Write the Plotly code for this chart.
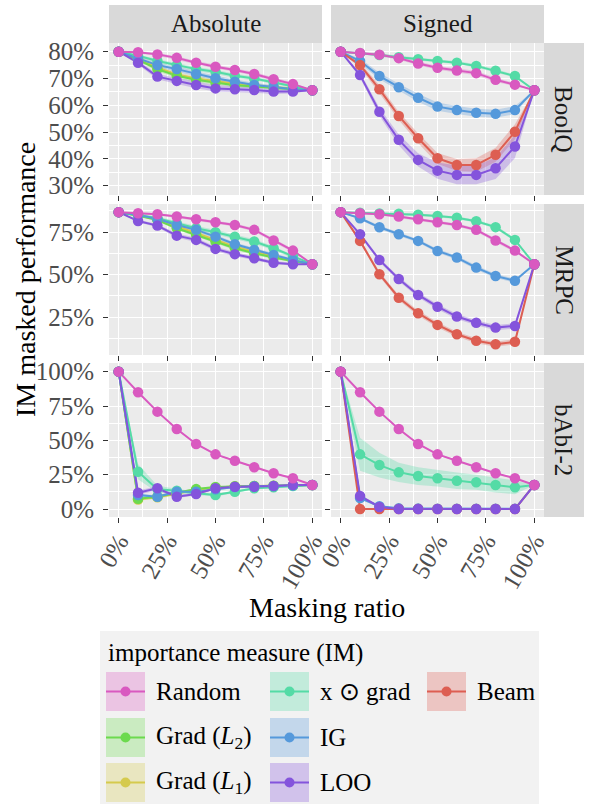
import plotly.graph_objects as go

W, H = 591, 806

MASK_RATIO = [0.0, 0.1, 0.2, 0.3, 0.4, 0.5, 0.6, 0.7, 0.8, 0.9, 1.0]
DATASETS = ['BoolQ', 'MRPC', 'bAbI-2']
FACETS = ['Absolute', 'Signed']

# mean masked performance (%) per panel
BOOLQ_ABS = {
    'Random':  [80.0, 79.8, 79.0, 77.7, 75.9, 74.4, 73.2, 71.7, 69.7, 67.9, 65.6],
    'Grad L1': [80.0, 77.5, 74.0, 71.5, 70.0, 69.0, 68.0, 67.3, 66.7, 66.2, 65.6],
    'Grad L2': [80.0, 77.0, 73.5, 71.0, 69.5, 68.5, 67.5, 67.0, 66.5, 66.0, 65.6],
    'x grad':  [80.0, 78.5, 76.5, 75.0, 73.5, 72.5, 71.0, 70.0, 68.5, 67.0, 65.6],
    'IG':      [80.0, 77.5, 75.0, 73.5, 71.7, 70.1, 68.8, 67.6, 66.8, 66.0, 65.6],
    'LOO':     [80.0, 75.9, 70.7, 69.1, 67.6, 66.3, 66.0, 65.7, 65.1, 65.1, 65.6],
}
BOOLQ_SGN = {
    'Random':  [80.0, 79.5, 78.9, 77.6, 75.6, 74.0, 73.0, 72.0, 69.5, 67.7, 65.6],
    'x grad':  [80.0, 79.4, 78.8, 77.9, 77.2, 76.5, 75.9, 74.7, 72.9, 70.9, 65.6],
    'IG':      [80.0, 76.5, 70.9, 66.7, 62.8, 59.5, 58.2, 57.2, 56.8, 58.2, 65.6],
    'Beam':    [80.0, 75.0, 66.0, 56.0, 47.7, 40.2, 37.7, 37.7, 41.5, 50.1, 65.6],
    'LOO':     [80.0, 71.3, 57.6, 47.1, 39.6, 35.6, 34.0, 34.0, 36.5, 44.6, 65.6],
}
MRPC_ABS = {
    'Random':  [86.8, 86.2, 85.6, 84.2, 82.6, 80.9, 79.3, 76.4, 70.1, 64.2, 56.2],
    'Grad L1': [86.8, 85.0, 82.8, 78.5, 74.5, 70.5, 66.5, 63.5, 60.8, 58.5, 56.2],
    'Grad L2': [86.8, 84.8, 82.2, 77.3, 73.4, 69.5, 65.6, 62.6, 60.1, 58.1, 56.2],
    'x grad':  [86.8, 85.2, 83.2, 80.3, 77.3, 75.0, 72.4, 69.5, 65.6, 60.7, 56.2],
    'IG':      [86.8, 85.2, 82.8, 79.3, 76.4, 72.4, 67.9, 64.6, 61.6, 58.7, 56.2],
    'LOO':     [86.8, 81.6, 78.9, 73.0, 70.5, 65.2, 62.1, 59.7, 57.1, 56.2, 56.2],
}
MRPC_SGN = {
    'Random':  [86.8, 86.2, 85.6, 84.2, 82.6, 80.9, 79.3, 76.4, 70.1, 64.2, 56.2],
    'x grad':  [86.8, 86.5, 86.0, 85.8, 85.3, 84.5, 83.5, 81.5, 78.0, 70.5, 56.2],
    'IG':      [86.8, 83.2, 77.9, 73.8, 69.9, 64.0, 60.1, 54.2, 49.3, 46.5, 56.2],
    'Beam':    [86.8, 69.9, 50.3, 36.5, 27.4, 20.5, 15.0, 11.2, 9.1, 10.6, 56.2],
    'LOO':     [86.8, 73.8, 58.7, 47.5, 38.1, 31.2, 25.4, 21.8, 18.9, 19.9, 56.2],
}
BABI_ABS = {
    'Random':  [100.0, 85.0, 70.9, 58.3, 47.4, 39.8, 35.2, 30.4, 26.0, 22.4, 17.5],
    'Grad L1': [100.0, 7.0, 8.5, 11.0, 14.0, 15.5, 16.5, 16.8, 17.0, 17.2, 17.5],
    'Grad L2': [100.0, 7.5, 9.0, 11.5, 14.5, 16.0, 16.5, 16.8, 17.0, 17.2, 17.5],
    'x grad':  [100.0, 27.2, 14.4, 13.3, 11.4, 10.2, 12.6, 15.1, 15.8, 16.8, 17.5],
    'IG':      [100.0, 10.2, 9.0, 12.6, 12.6, 14.4, 16.0, 16.5, 16.8, 17.2, 17.5],
    'LOO':     [100.0, 11.9, 15.1, 9.0, 11.0, 15.1, 16.2, 16.2, 16.7, 17.5, 17.5],
}
BABI_SGN = {
    'Random':  [100.0, 85.0, 70.9, 58.3, 47.4, 39.8, 35.2, 30.4, 26.0, 22.4, 17.5],
    'x grad':  [100.0, 39.8, 32.0, 26.7, 24.0, 22.4, 20.6, 19.5, 17.5, 15.8, 17.5],
    'IG':      [100.0, 8.0, 2.0, 0.5, 0.3, 0.2, 0.2, 0.2, 0.2, 0.2, 17.5],
    'Beam':    [100.0, 0.0, 0.0, 0.0, 0.0, 0.0, 0.0, 0.0, 0.0, 0.0, 17.5],
    'LOO':     [100.0, 9.5, 1.5, 0.0, 0.0, 0.0, 0.0, 0.0, 0.0, 0.0, 17.5],
}

# half width of the confidence band (percentage points)
BOOLQ_ABS_CI = {
    'Random':  [0, 0.5, 0.5, 0.6, 0.6, 0.7, 0.7, 0.7, 0.7, 0.6, 0],
    'Grad L1': [0, 0.6, 0.8, 0.8, 0.8, 0.8, 0.7, 0.7, 0.6, 0.5, 0],
    'Grad L2': [0, 0.6, 0.8, 0.8, 0.8, 0.8, 0.7, 0.7, 0.6, 0.5, 0],
    'x grad':  [0, 0.5, 0.7, 0.7, 0.8, 0.8, 0.8, 0.7, 0.6, 0.5, 0],
    'IG':      [0, 0.6, 0.8, 0.9, 0.9, 0.9, 0.8, 0.8, 0.7, 0.5, 0],
    'LOO':     [0, 0.8, 1.0, 1.2, 1.2, 1.2, 1.2, 1.0, 0.9, 0.7, 0],
}
BOOLQ_SGN_CI = {
    'Random':  [0, 0.5, 0.6, 0.6, 0.7, 0.7, 0.8, 0.8, 0.8, 0.6, 0],
    'x grad':  [0, 0.4, 0.5, 0.5, 0.5, 0.6, 0.6, 0.6, 0.6, 0.5, 0],
    'IG':      [0, 1.0, 1.2, 1.3, 1.5, 1.5, 1.5, 1.5, 1.5, 1.5, 0],
    'Beam':    [0, 1.0, 1.5, 1.5, 1.8, 2.0, 2.2, 2.5, 2.6, 2.8, 0],
    'LOO':     [0, 1.0, 1.5, 2.0, 2.5, 3.0, 3.5, 3.5, 4.0, 4.3, 0],
}
MRPC_ABS_CI = {
    'Random':  [0, 0.6, 0.6, 0.7, 0.8, 0.8, 0.9, 1.0, 1.0, 1.0, 0],
    'Grad L1': [0, 0.7, 0.8, 0.9, 1.0, 1.0, 1.0, 1.0, 0.9, 0.8, 0],
    'Grad L2': [0, 0.7, 0.8, 0.9, 1.0, 1.0, 1.0, 1.0, 0.9, 0.8, 0],
    'x grad':  [0, 0.8, 1.0, 1.2, 1.3, 1.4, 1.4, 1.3, 1.2, 1.0, 0],
    'IG':      [0, 0.7, 0.9, 1.0, 1.1, 1.1, 1.1, 1.0, 1.0, 0.8, 0],
    'LOO':     [0, 0.8, 1.0, 1.2, 1.3, 1.3, 1.3, 1.2, 1.0, 0.8, 0],
}
MRPC_SGN_CI = {
    'Random':  [0, 0.6, 0.6, 0.7, 0.8, 0.8, 0.9, 1.0, 1.0, 1.0, 0],
    'x grad':  [0, 0.5, 0.6, 0.6, 0.7, 0.7, 0.8, 0.8, 0.9, 0.9, 0],
    'IG':      [0, 0.8, 1.0, 1.0, 1.0, 1.1, 1.1, 1.2, 1.2, 1.2, 0],
    'Beam':    [0, 1.2, 1.4, 1.5, 1.5, 1.5, 1.5, 1.5, 1.5, 1.5, 0],
    'LOO':     [0, 1.0, 1.2, 1.3, 1.4, 1.5, 1.5, 1.5, 1.6, 1.6, 0],
}
BABI_ABS_CI = {
    'Random':  [0, 0.5, 0.5, 0.5, 0.5, 0.5, 0.5, 0.5, 0.5, 0.5, 0],
    'Grad L1': [0, 1.0, 1.0, 1.0, 0.8, 0.8, 0.7, 0.6, 0.5, 0.5, 0],
    'Grad L2': [0, 1.0, 1.0, 1.0, 0.8, 0.8, 0.7, 0.6, 0.5, 0.5, 0],
    'x grad':  [0, 5.5, 2.5, 1.5, 1.2, 1.0, 1.0, 0.8, 0.6, 0.5, 0],
    'IG':      [0, 1.0, 1.0, 0.8, 0.8, 0.7, 0.6, 0.5, 0.5, 0.5, 0],
    'LOO':     [0, 1.5, 1.5, 1.2, 1.0, 0.8, 0.7, 0.6, 0.5, 0.5, 0],
}
BABI_SGN_CI = {
    'Random':  [0, 0.5, 0.5, 0.5, 0.5, 0.5, 0.5, 0.5, 0.5, 0.5, 0],
    'x grad':  [0, 12.0, 9.0, 7.0, 6.5, 6.0, 6.0, 5.5, 5.5, 5.0, 0],
    'IG':      [0, 1.0, 0.8, 0.4, 0.3, 0.2, 0.2, 0.2, 0.2, 0.2, 0],
    'Beam':    [0, 0.2, 0.2, 0.2, 0.2, 0.2, 0.2, 0.2, 0.2, 0.2, 0],
    'LOO':     [0, 1.0, 0.8, 0.3, 0.2, 0.2, 0.2, 0.2, 0.2, 0.2, 0],
}

PANELS = [
    [(BOOLQ_ABS, BOOLQ_ABS_CI), (BOOLQ_SGN, BOOLQ_SGN_CI)],
    [(MRPC_ABS, MRPC_ABS_CI), (MRPC_SGN, MRPC_SGN_CI)],
    [(BABI_ABS, BABI_ABS_CI), (BABI_SGN, BABI_SGN_CI)],
]

Y_RANGES = [[26.5, 83.25], [2.8, 91.6], [-5.8, 106.3]]
Y_TICKS = [[30, 40, 50, 60, 70, 80], [25, 50, 75], [0, 25, 50, 75, 100]]
Y_MINOR = [[35, 45, 55, 65, 75], [12.5, 37.5, 62.5, 87.5], [12.5, 37.5, 62.5, 87.5]]
X_TICKS = [0, 0.25, 0.5, 0.75, 1.0]
X_TICKTEXT = ['0%', '25%', '50%', '75%', '100%']
X_MINOR = [0.125, 0.375, 0.625, 0.875]

COLORS = {
    'Random':  '#D959C0',
    'Grad L2': '#6CDA4E',
    'Grad L1': '#D5CA4D',
    'x grad':  '#54DBA6',
    'IG':      '#5599DB',
    'LOO':     '#8454DC',
    'Beam':    '#DD5E52',
}
LABELS = {
    'Random':  'Random',
    'Grad L2': 'Grad (<i>L</i><sub>2</sub>)',
    'Grad L1': 'Grad (<i>L</i><sub>1</sub>)',
    'x grad':  'x \u2299 grad',
    'IG':      'IG',
    'LOO':     'LOO',
    'Beam':    'Beam',
}
DRAW_ORDER = ['Grad L1', 'Grad L2', 'x grad', 'IG', 'Beam', 'LOO', 'Random']
LEGEND_COLS = [['Random', 'Grad L2', 'Grad L1'], ['x grad', 'IG', 'LOO'], ['Beam']]

FONT = 'Liberation Serif'
C_PANEL = '#EBEBEB'
C_STRIP = '#D9D9D9'
C_TICK = '#4D4D4D'
TICK_SIZE = 25

# pixel layout
COL_X = [(109, 322), (331, 544)]
ROW_Y = [(43, 195), (204, 355), (363, 517)]
STRIP_TOP = 5
STRIP_RIGHT = 584


def rgba(hex_color, a):
    h = hex_color.lstrip('#')
    r, g, b = int(h[0:2], 16), int(h[2:4], 16), int(h[4:6], 16)
    return f'rgba({r},{g},{b},{a})'


def px_x(x):
    return x / W


def px_y(y):
    return 1 - y / H


def label(text, x, y, size, angle=0, xanchor='center', color='black'):
    return dict(text=text, xref='paper', yref='paper', x=px_x(x), y=px_y(y),
                xanchor=xanchor, yanchor='middle', textangle=angle, showarrow=False,
                font=dict(family=FONT, size=size, color=color))


fig = go.Figure()
layout = {}

for r in range(3):
    for c in range(2):
        k = r * 2 + c + 1
        sfx = '' if k == 1 else str(k)
        means, ci = PANELS[r][c]
        series = [s for s in DRAW_ORDER if s in means]
        # ribbons, then lines, then points (ggplot layer order)
        for s in series:
            lo = [m - h for m, h in zip(means[s], ci[s])]
            hi = [m + h for m, h in zip(means[s], ci[s])]
            fig.add_trace(go.Scatter(
                x=MASK_RATIO + MASK_RATIO[::-1], y=hi + lo[::-1],
                fill='toself', fillcolor=rgba(COLORS[s], 0.3),
                line=dict(width=0), mode='lines', hoverinfo='skip',
                showlegend=False, xaxis='x' + sfx, yaxis='y' + sfx,
            ))
        for s in series:
            fig.add_trace(go.Scatter(
                x=MASK_RATIO, y=means[s], mode='lines',
                line=dict(color=COLORS[s], width=2),
                showlegend=False, hoverinfo='skip',
                xaxis='x' + sfx, yaxis='y' + sfx,
            ))
        for s in series:
            fig.add_trace(go.Scatter(
                x=MASK_RATIO, y=means[s], mode='markers',
                marker=dict(color=COLORS[s], size=10.5, line=dict(width=0)),
                showlegend=False, name=s,
                hovertemplate=f'{s}<br>%{{x:.0%}}: %{{y:.1f}}%<extra></extra>',
                xaxis='x' + sfx, yaxis='y' + sfx,
            ))

        x0, x1 = COL_X[c]
        y0, y1 = ROW_Y[r]
        layout['xaxis' + sfx] = dict(
            domain=[px_x(x0), px_x(x1)], range=[-0.05, 1.05], anchor='y' + sfx,
            tickvals=X_TICKS, ticktext=X_TICKTEXT, showticklabels=(r == 2),
            tickangle=-60, ticks='outside', ticklen=5, tickwidth=1, tickcolor='#333333',
            ticklabelstandoff=-6,
            tickfont=dict(family=FONT, size=TICK_SIZE, color=C_TICK),
            showgrid=True, gridcolor='white', gridwidth=1.4,
            minor=dict(tickvals=X_MINOR, showgrid=True, gridcolor='white', gridwidth=0.7),
            zeroline=False, showline=False, fixedrange=True, automargin=False,
        )
        layout['yaxis' + sfx] = dict(
            domain=[px_y(y1), px_y(y0)], range=Y_RANGES[r], anchor='x' + sfx,
            tickvals=Y_TICKS[r], ticktext=[f'{v}%' for v in Y_TICKS[r]],
            showticklabels=(c == 0),
            ticks='outside', ticklen=5, tickwidth=1, tickcolor='#333333',
            ticklabelstandoff=4,
            tickfont=dict(family=FONT, size=TICK_SIZE, color=C_TICK),
            showgrid=True, gridcolor='white', gridwidth=1.4,
            minor=dict(tickvals=Y_MINOR[r], showgrid=True, gridcolor='white', gridwidth=0.7),
            zeroline=False, showline=False, fixedrange=True, automargin=False,
        )

shapes = []
annotations = []

# facet strips
for c, name in enumerate(FACETS):
    x0, x1 = COL_X[c]
    shapes.append(dict(type='rect', xref='paper', yref='paper',
                       x0=px_x(x0), x1=px_x(x1), y0=px_y(ROW_Y[0][0]), y1=px_y(STRIP_TOP),
                       fillcolor=C_STRIP, line=dict(width=0), layer='below'))
    annotations.append(label(name, (x0 + x1) / 2, (STRIP_TOP + ROW_Y[0][0]) / 2, 25,
                             color='#1A1A1A'))
for r, name in enumerate(DATASETS):
    y0, y1 = ROW_Y[r]
    x0 = COL_X[1][1]
    shapes.append(dict(type='rect', xref='paper', yref='paper',
                       x0=px_x(x0), x1=px_x(STRIP_RIGHT), y0=px_y(y1), y1=px_y(y0),
                       fillcolor=C_STRIP, line=dict(width=0), layer='below'))
    annotations.append(label(name, (x0 + STRIP_RIGHT) / 2, (y0 + y1) / 2, 25, angle=90,
                             color='#1A1A1A'))

# axis titles
annotations.append(label('IM masked performance', 26, (ROW_Y[0][0] + ROW_Y[2][1]) / 2, 28, angle=-90))
annotations.append(label('Masking ratio', (COL_X[0][0] + COL_X[1][1]) / 2, 607, 28))

# legend (drawn by hand to get ggplot-style keys)
LEG_BOX = (100, 631, 539, 804)
LEG_KEY_X = [106, 270, 427]
LEG_ROW_Y = [672, 718, 763]
KEY = 39
shapes.append(dict(type='rect', xref='paper', yref='paper',
                   x0=px_x(LEG_BOX[0]), x1=px_x(LEG_BOX[2]), y0=px_y(LEG_BOX[3]), y1=px_y(LEG_BOX[1]),
                   fillcolor='#F2F2F2', line=dict(width=0), layer='below'))
annotations.append(label('importance measure (IM)', 106, 653, 25, xanchor='left'))
for ci_, col in enumerate(LEGEND_COLS):
    for ri, s in enumerate(col):
        kx, ky = LEG_KEY_X[ci_], LEG_ROW_Y[ri]
        cy = ky + KEY / 2
        shapes.append(dict(type='rect', xref='paper', yref='paper',
                           x0=px_x(kx), x1=px_x(kx + KEY), y0=px_y(ky + KEY), y1=px_y(ky),
                           fillcolor=rgba(COLORS[s], 0.3), line=dict(width=0)))
        shapes.append(dict(type='line', xref='paper', yref='paper',
                           x0=px_x(kx), x1=px_x(kx + KEY), y0=px_y(cy), y1=px_y(cy),
                           line=dict(color=COLORS[s], width=2)))
        shapes.append(dict(type='circle', xref='paper', yref='paper',
                           x0=px_x(kx + KEY / 2 - 5), x1=px_x(kx + KEY / 2 + 5),
                           y0=px_y(cy + 5), y1=px_y(cy - 5),
                           fillcolor=COLORS[s], line=dict(width=0)))
        annotations.append(label(LABELS[s], kx + KEY + 9, cy, 25, xanchor='left'))

fig.update_layout(
    **layout,
    width=W, height=H, autosize=False,
    margin=dict(l=0, r=0, t=0, b=0, pad=0, autoexpand=False),
    paper_bgcolor='white', plot_bgcolor=C_PANEL,
    showlegend=False,
    shapes=shapes, annotations=annotations,
    font=dict(family=FONT),
)

fig.write_html(
    'out.html',
    config={'displayModeBar': False},
    post_script=("document.documentElement.style.margin='0';"
                 "document.body.style.margin='0';document.body.style.overflow='hidden';"),
)
